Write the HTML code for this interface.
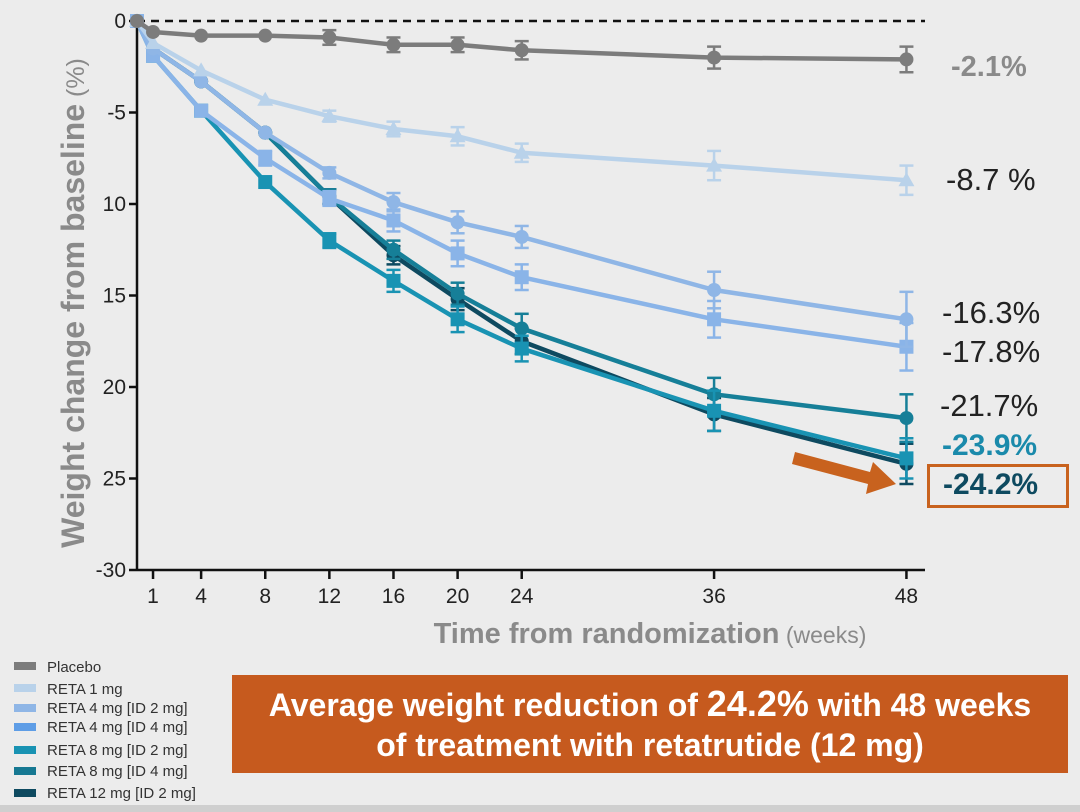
<!DOCTYPE html>
<html><head><meta charset="utf-8">
<style>
html,body{margin:0;padding:0;}
body{width:1080px;height:812px;background:#ececec;position:relative;overflow:hidden;font-family:"Liberation Sans",Arial,sans-serif;}
.lab{position:absolute;font-size:31px;color:#222;white-space:nowrap;}
.lg{position:absolute;left:35px;white-space:nowrap;font-size:15px;}
.sw{position:absolute;left:2px;width:22px;height:8px;}
</style></head>
<body>
<svg id="chart" width="1080" height="812" style="position:absolute;left:0;top:0">
<rect x="0" y="805" width="1080" height="7" fill="#cfcfcf"/>
<g id="axes"></g>
<g id="series"></g>
<text transform="translate(84,303) rotate(-90)" text-anchor="middle" font-family="Liberation Sans, sans-serif" fill="#8a8a8a"><tspan font-size="32" font-weight="bold">Weight change from baseline</tspan><tspan font-size="25"> (%)</tspan></text>
<text x="650" y="643" text-anchor="middle" font-family="Liberation Sans, sans-serif" fill="#8a8a8a"><tspan font-size="29" font-weight="bold">Time from randomization</tspan><tspan font-size="23"> (weeks)</tspan></text>
<polygon points="795,452 870,472 873,462 896,484 866,494 868,484 792,464" fill="#c8621e"/>
</svg>

<div class="lab" style="left:951px;top:51px;font-weight:bold;color:#8a8a8a;font-size:29px">-2.1%</div>
<div class="lab" style="left:946px;top:162px">-8.7 %</div>
<div class="lab" style="left:942px;top:295px">-16.3%</div>
<div class="lab" style="left:942px;top:334px">-17.8%</div>
<div class="lab" style="left:940px;top:388px">-21.7%</div>
<div class="lab" style="left:942px;top:429px;font-weight:bold;color:#1a8aab;font-size:30px">-23.9%</div>
<div style="position:absolute;left:927px;top:464px;width:136px;height:38px;border:3px solid #c8621e;"></div>
<div class="lab" style="left:943px;top:468px;font-weight:bold;color:#0e4a60;font-size:30px">-24.2%</div>

<div style="position:absolute;left:12px;top:658px;color:#333;line-height:1">
 <div class="sw" style="top:4px;background:#7c7c7c"></div><div class="lg" style="top:2px">Placebo</div>
 <div class="sw" style="top:26px;background:#b9d2ea"></div><div class="lg" style="top:24px">RETA 1 mg</div>
 <div class="sw" style="top:46px;background:#8fb6e6"></div><div class="lg" style="top:43px">RETA 4 mg [ID 2 mg]</div>
 <div class="sw" style="top:65px;background:#5e9de6"></div><div class="lg" style="top:62px">RETA 4 mg [ID 4 mg]</div>
 <div class="sw" style="top:88px;background:#1993b3"></div><div class="lg" style="top:85px">RETA 8 mg [ID 2 mg]</div>
 <div class="sw" style="top:109px;background:#167892"></div><div class="lg" style="top:106px">RETA 8 mg [ID 4 mg]</div>
 <div class="sw" style="top:131px;background:#0e4a60"></div><div class="lg" style="top:128px">RETA 12 mg [ID 2 mg]</div>
</div>

<div style="position:absolute;left:232px;top:675px;width:836px;height:98px;background:#c65a1e;color:#fff;font-weight:bold;font-size:32px;text-align:center;line-height:40px;padding-top:9px;box-sizing:border-box;white-space:nowrap">Average weight reduction of <span style="font-size:36px">24.2%</span> with 48 weeks<br>of treatment with retatrutide (12 mg)</div>

<script>
const weeks = [0,1,4,8,12,16,20,24,36,48];
const xTicks = [1,4,8,12,16,20,24,36,48];
const yTicks = [0,5,10,15,20,25,30];
const yTickLabels = ["0","-5","10","15","20","25","-30"];
const placebo = [0,0.6,0.8,0.8,0.9,1.3,1.3,1.6,2.0,2.1];
const placeboErr = [0,0,0,0,0.4,0.4,0.4,0.5,0.6,0.7];
const reta1 = [0,1.2,2.7,4.3,5.2,5.9,6.3,7.2,7.9,8.7];
const reta1Err = [0,0,0,0,0.3,0.4,0.5,0.5,0.8,0.8];
const reta4id2 = [0,1.5,3.3,6.1,8.3,9.9,11.0,11.8,14.7,16.3];
const reta4id2Err = [0,0,0,0,0.3,0.5,0.6,0.6,1.0,1.5];
const reta4id4 = [0,1.9,4.9,7.5,9.7,10.9,12.7,14.0,16.3,17.8];
const reta4id4Err = [0,0,0,0.4,0.4,0.6,0.7,0.7,1.0,1.3];
const reta8id2 = [0,1.9,4.9,8.8,12.0,14.2,16.3,17.9,21.3,23.9];
const reta8id2Err = [0,0,0,0,0.4,0.6,0.7,0.7,1.1,1.1];
const reta8id4 = [0,1.5,3.3,6.1,9.6,12.5,14.9,16.8,20.4,21.7];
const reta8id4Err = [0,0,0,0,0.4,0.5,0.6,0.8,0.9,1.3];
const reta12 = [0,1.5,3.3,6.1,9.6,12.8,15.2,17.5,21.5,24.2];
const reta12Err = [0,0,0,0,0.4,0.5,0.6,0.7,0.9,1.1];

const NS="http://www.w3.org/2000/svg";
const X0=137, XPW=16.03, Y0=21, YPU=18.3;
function xs(w){return X0+w*XPW;}
function ys(v){return Y0+v*YPU;}
function mk(t,a,p){const e=document.createElementNS(NS,t);for(const k in a)e.setAttribute(k,a[k]);p.appendChild(e);return e;}

const ax=document.getElementById('axes');
let l=mk('line',{x1:X0,y1:14,x2:X0,y2:ys(30),stroke:'#111','stroke-width':2.5},ax);


l=mk('line',{x1:X0,y1:ys(30),x2:925,y2:ys(30),stroke:'#111','stroke-width':2.5},ax);


l=mk('line',{x1:X0,y1:ys(0),x2:925,y2:ys(0),stroke:'#111','stroke-width':2.5,'stroke-dasharray':'8,6'},ax);


yTicks.forEach((v,i)=>{
  mk('line',{x1:X0-8,y1:ys(v),x2:X0,y2:ys(v),stroke:'#111','stroke-width':2.5},ax);
  const t=mk('text',{x:X0-11,y:ys(v)+7,'text-anchor':'end','font-size':21,fill:'#222','font-family':'Liberation Sans, sans-serif'},ax);
  t.textContent=yTickLabels[i];
  
  
});
xTicks.forEach(w=>{
  mk('line',{x1:xs(w),y1:ys(30),x2:xs(w),y2:ys(30)+9,stroke:'#111','stroke-width':2.5},ax);
  const t=mk('text',{x:xs(w),y:ys(30)+33,'text-anchor':'middle','font-size':21,fill:'#222','font-family':'Liberation Sans, sans-serif'},ax);
  t.textContent=String(w);
  
  
});

const sg=document.getElementById('series');
function drawSeries(name,vals,errs,color,shape){
  const g=mk('g',{},sg);
  
  
  mk('polyline',{points:weeks.map((w,i)=>xs(w)+','+ys(vals[i])).join(' '),fill:'none',stroke:color,'stroke-width':4.5,'stroke-linejoin':'round'},g);
  weeks.forEach((w,i)=>{
    const x=xs(w),y=ys(vals[i]),e=errs[i]*YPU;
    if(e>0){
      mk('line',{x1:x,y1:y-e,x2:x,y2:y+e,stroke:color,'stroke-width':2.5},g);
      mk('line',{x1:x-7,y1:y-e,x2:x+7,y2:y-e,stroke:color,'stroke-width':2.5},g);
      mk('line',{x1:x-7,y1:y+e,x2:x+7,y2:y+e,stroke:color,'stroke-width':2.5},g);
    }
    let m;
    if(shape==='circle') m=mk('circle',{cx:x,cy:y,r:7,fill:color},g);
    else if(shape==='square') m=mk('rect',{x:x-7,y:y-7,width:14,height:14,fill:color},g);
    else m=mk('polygon',{points:`${x},${y-8} ${x+8},${y+6} ${x-8},${y+6}`,fill:color},g);
    
    
  });
}
drawSeries('series-reta12',reta12,reta12Err,'#0e4a60','circle');
drawSeries('series-reta8-id4',reta8id4,reta8id4Err,'#167f98','circle');
drawSeries('series-reta8-id2',reta8id2,reta8id2Err,'#1993b3','square');
drawSeries('series-reta4-id4',reta4id4,reta4id4Err,'#8ab4e8','square');
drawSeries('series-reta4-id2',reta4id2,reta4id2Err,'#8fb6e6','circle');
drawSeries('series-reta1',reta1,reta1Err,'#b9d2ea','tri');
drawSeries('series-placebo',placebo,placeboErr,'#7c7c7c','circle');
</script>
</body></html>
